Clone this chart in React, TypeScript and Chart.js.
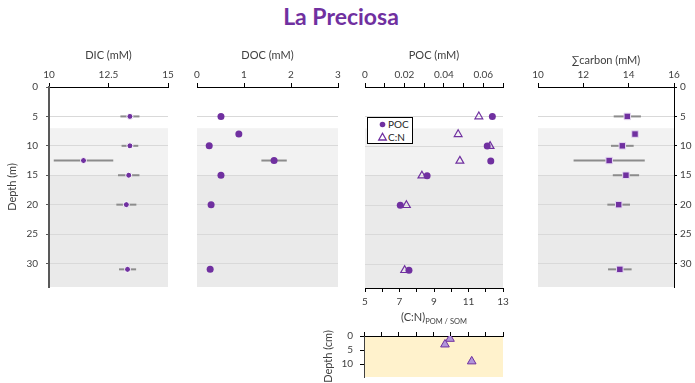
import React, { useEffect, useRef } from "react";
import { Chart, registerables } from "chart.js";

Chart.register(...registerables);

const PURPLE = "#7030A0";
const AXIS_TEXT = "#404040";
const FONT = "Lato, 'Open Sans', sans-serif";
const W = 695;
const H = 383;

// ---------- data ----------
const depthTicks = [0, 5, 10, 15, 20, 25, 30];
const sedDepthTicks = [0, 5, 10];
const waterLayers = [7, 15, 34]; // shaded layer boundaries (m)

const dicTicks = [10, 12.5, 15];
const dicTickLabels = ["10", "12.5", "15"];
const dicDepth = [5, 10, 12.5, 15, 20, 31];
const dicValue = [13.4, 13.4, 11.45, 13.35, 13.25, 13.3];
const dicError = [0.4, 0.35, 1.25, 0.45, 0.42, 0.36];

const docTicks = [0, 1, 2, 3];
const docTickLabels = ["0", "1", "2", "3"];
const docDepth = [5, 8, 10, 12.5, 15, 20, 31];
const docValue = [0.51, 0.89, 0.26, 1.64, 0.51, 0.3, 0.28];
const docError = [0, 0, 0, 0.27, 0, 0.05, 0];

const pocTicks = [0, 0.01, 0.02, 0.03, 0.04, 0.05, 0.06, 0.07];
const pocTickLabels = ["0", "", "0.02", "", "0.04", "", "0.06", ""];
const pocDepth = [5, 10, 12.5, 15, 20, 31];
const pocValue = [0.0646, 0.062, 0.0638, 0.0315, 0.0179, 0.0223];

const cnTicks = [5, 6, 7, 8, 9, 10, 11, 12, 13];
const cnTickLabels = ["5", "", "7", "", "9", "", "11", "", "13"];
const cnDepth = [5, 8, 10, 12.5, 15, 20, 31];
const cnValue = [11.6, 10.4, 12.25, 10.5, 8.3, 7.4, 7.3];

const carbonTicks = [10, 12, 14, 16];
const carbonTickLabels = ["10", "12", "14", "16"];
const carbonDepth = [5, 8, 10, 12.5, 15, 20, 31];
const carbonValue = [13.94, 14.28, 13.72, 13.14, 13.88, 13.56, 13.61];
const carbonError = [0.6, 0, 0.5, 1.57, 0.58, 0.5, 0.52];

const sedDepth = [1, 3, 9];
const sedCN = [9.95, 9.66, 11.2];

// ---------- helpers ----------
const fixSize = (size: number) => (scale: any) => {
  if (scale.isHorizontal()) scale.height = size;
  else scale.width = size;
  scale.paddingLeft = 0;
  scale.paddingRight = 0;
  scale.paddingTop = 0;
  scale.paddingBottom = 0;
};

const setTicks = (values: number[]) => (scale: any) => {
  scale.ticks = values.map((v) => ({ value: v }));
};

const gridColor = (c: any) =>
  c.tick && c.tick.value === 0 ? "rgba(0,0,0,0)" : "#D9D9D9";

const bandPlugin = {
  id: "bands",
  beforeDraw(chart: any, _args: any, opts: any) {
    const bands = opts && opts.bands;
    if (!bands) return;
    const { ctx, chartArea: a } = chart;
    const ys = chart.scales.y;
    ctx.save();
    bands.forEach((b: any) => {
      const y1 = ys.getPixelForValue(b.from);
      const y2 = ys.getPixelForValue(b.to);
      ctx.fillStyle = b.color;
      ctx.fillRect(a.left, Math.min(y1, y2), a.right - a.left, Math.abs(y2 - y1));
    });
    ctx.restore();
  },
};

const errorBarPlugin = {
  id: "errbars",
  beforeDatasetsDraw(chart: any, _args: any, opts: any) {
    const errs = opts && opts.errors;
    if (!errs) return;
    const meta = chart.getDatasetMeta(0);
    const xs = chart.scales[meta.xAxisID];
    const data = chart.data.datasets[0].data;
    const { ctx } = chart;
    ctx.save();
    ctx.strokeStyle = "#8C8C8C";
    ctx.lineWidth = 2;
    meta.data.forEach((pt: any, i: number) => {
      const e = errs[i];
      if (!e) return;
      const v = data[i].x;
      ctx.beginPath();
      ctx.moveTo(xs.getPixelForValue(v - e), pt.y);
      ctx.lineTo(xs.getPixelForValue(v + e), pt.y);
      ctx.stroke();
    });
    ctx.restore();
  },
};

const tickFont = { family: FONT, size: 10 };
const titleFont = { family: FONT, size: 11 };

const topAxis = (
  min: number,
  max: number,
  ticks: number[],
  labels: string[],
  title: string,
  titlePadTop = 0
) => ({
  type: "linear",
  position: "top",
  min,
  max,
  afterBuildTicks: setTicks(ticks),
  afterFit: fixSize(38),
  ticks: {
    padding: 2,
    color: AXIS_TEXT,
    font: tickFont,
    maxRotation: 0,
    autoSkip: false,
    callback: (_v: any, i: number) => labels[i],
  },
  grid: { drawOnChartArea: false, drawTicks: true, tickLength: 4, tickColor: "#000", tickWidth: 1 },
  border: { display: true, color: "#000", width: 1 },
  title: {
    display: true,
    text: title,
    color: AXIS_TEXT,
    font: titleFont,
    padding: { top: titlePadTop, bottom: 0 },
  },
});

const hiddenDepthAxis = () => ({
  type: "linear",
  reverse: true,
  min: 0,
  max: 34,
  afterBuildTicks: setTicks(depthTicks),
  afterFit: fixSize(0),
  ticks: { display: false },
  grid: { color: gridColor, drawTicks: false, lineWidth: 1 },
  border: { display: false },
});

const baseOptions = (padding: any) => ({
  responsive: false,
  animation: false,
  events: [],
  devicePixelRatio: 1,
  layout: { padding },
});

const waterBands = [
  { from: waterLayers[0], to: waterLayers[1], color: "#F2F2F2" },
  { from: waterLayers[1], to: waterLayers[2], color: "#EAEAEA" },
];

const pts = (xs: number[], ys: number[]) => xs.map((v, i) => ({ x: v, y: ys[i] }));

export default function App() {
  const r0 = useRef<HTMLCanvasElement>(null);
  const r1 = useRef<HTMLCanvasElement>(null);
  const r2 = useRef<HTMLCanvasElement>(null);
  const r3 = useRef<HTMLCanvasElement>(null);
  const r4 = useRef<HTMLCanvasElement>(null);

  useEffect(() => {
    const charts: any[] = [];
    const mk = (ref: any, cfg: any) => {
      if (ref.current) charts.push(new Chart(ref.current, cfg));
    };

    // DIC panel: plot 49..168 x 87..287
    mk(r0, {
      type: "scatter",
      data: {
        datasets: [
          {
            data: pts(dicValue, dicDepth),
            pointStyle: "circle",
            pointRadius: 3,
            pointBackgroundColor: PURPLE,
            pointBorderColor: "#FFFFFF",
            pointBorderWidth: 1,
          },
        ],
      },
      options: {
        ...baseOptions({ left: 6, top: 49, right: W - 168, bottom: H - 287 }),
        plugins: {
          legend: { display: false },
          tooltip: { enabled: false },
          bands: { bands: waterBands },
          errbars: { errors: dicError },
        },
        scales: {
          x: topAxis(10, 15, dicTicks, dicTickLabels, "DIC (mM)"),
          y: {
            type: "linear",
            position: "left",
            reverse: true,
            min: 0,
            max: 34,
            afterBuildTicks: setTicks(depthTicks),
            afterFit: fixSize(43),
            ticks: { padding: 8, color: AXIS_TEXT, font: tickFont },
            grid: { color: gridColor, drawTicks: true, tickLength: 3, tickColor: "#595959" },
            border: { display: true, color: "#595959", width: 2 },
            title: { display: true, text: "Depth (m)", color: AXIS_TEXT, font: titleFont, padding: 0 },
          },
        },
      },
      plugins: [bandPlugin, errorBarPlugin],
    });

    // DOC panel: plot 197..338
    mk(r1, {
      type: "scatter",
      data: {
        datasets: [
          {
            data: pts(docValue, docDepth),
            pointStyle: "circle",
            pointRadius: 3.5,
            pointBackgroundColor: PURPLE,
            pointBorderColor: PURPLE,
            pointBorderWidth: 0,
          },
        ],
      },
      options: {
        ...baseOptions({ left: 197, top: 49, right: W - 338, bottom: H - 287 }),
        plugins: {
          legend: { display: false },
          tooltip: { enabled: false },
          bands: { bands: waterBands },
          errbars: { errors: docError },
        },
        scales: {
          x: topAxis(0, 3, docTicks, docTickLabels, "DOC (mM)"),
          y: hiddenDepthAxis(),
        },
      },
      plugins: [bandPlugin, errorBarPlugin],
    });

    // POC / C:N panel: plot 365..503 x 87..288
    mk(r2, {
      type: "scatter",
      data: {
        datasets: [
          {
            label: "POC",
            data: pts(pocValue, pocDepth),
            xAxisID: "x",
            pointStyle: "circle",
            pointRadius: 3.5,
            pointBackgroundColor: PURPLE,
            pointBorderWidth: 0,
          },
          {
            label: "C:N",
            data: pts(cnValue, cnDepth),
            xAxisID: "x2",
            pointStyle: "triangle",
            pointRadius: 4.5,
            pointBackgroundColor: "rgba(255,255,255,0)",
            pointBorderColor: PURPLE,
            pointBorderWidth: 1.2,
          },
        ],
      },
      options: {
        ...baseOptions({ left: 365, top: 49, right: W - 503, bottom: H - 288 - 20 }),
        plugins: {
          legend: { display: false },
          tooltip: { enabled: false },
          bands: { bands: waterBands },
        },
        scales: {
          x: topAxis(0, 0.07, pocTicks, pocTickLabels, "POC (mM)"),
          x2: {
            type: "linear",
            position: "bottom",
            min: 5,
            max: 13,
            afterBuildTicks: setTicks(cnTicks),
            afterFit: fixSize(20),
            ticks: {
              padding: 4,
              color: AXIS_TEXT,
              font: tickFont,
              maxRotation: 0,
              autoSkip: false,
              callback: (_v: any, i: number) => cnTickLabels[i],
            },
            grid: { drawOnChartArea: false, drawTicks: true, tickLength: 4, tickColor: "#000" },
            border: { display: true, color: "#000", width: 1 },
          },
          y: hiddenDepthAxis(),
        },
      },
      plugins: [bandPlugin],
    });

    // Sum carbon panel: plot 538..674
    mk(r3, {
      type: "scatter",
      data: {
        datasets: [
          {
            data: pts(carbonValue, carbonDepth),
            pointStyle: "rect",
            pointRadius: 4.6,
            pointBackgroundColor: PURPLE,
            pointBorderColor: "#E6DAF2",
            pointBorderWidth: 1,
          },
        ],
      },
      options: {
        ...baseOptions({ left: 538, top: 49, right: 0, bottom: H - 287 }),
        plugins: {
          legend: { display: false },
          tooltip: { enabled: false },
          bands: { bands: waterBands },
          errbars: { errors: carbonError },
        },
        scales: {
          x: topAxis(10, 16, carbonTicks, carbonTickLabels, "\u2211carbon (mM)", 5),
          y: {
            type: "linear",
            position: "right",
            reverse: true,
            min: 0,
            max: 34,
            afterBuildTicks: setTicks(depthTicks),
            afterFit: fixSize(W - 674),
            ticks: { padding: 3, color: AXIS_TEXT, font: tickFont },
            grid: { color: gridColor, drawTicks: true, tickLength: 3, tickColor: "#000" },
            border: { display: true, color: "#000", width: 1 },
          },
        },
      },
      plugins: [bandPlugin, errorBarPlugin],
    });

    // Sediment C:N panel: plot 364..503 x 336..383
    mk(r4, {
      type: "scatter",
      data: {
        datasets: [
          {
            data: pts(sedCN, sedDepth),
            pointStyle: "triangle",
            pointRadius: 5,
            pointBackgroundColor: "#B195DA",
            pointBorderColor: PURPLE,
            pointBorderWidth: 1,
          },
        ],
      },
      options: {
        ...baseOptions({ left: 364 - 42, top: 336 - 6, right: W - 503, bottom: 0 }),
        plugins: {
          legend: { display: false },
          tooltip: { enabled: false },
          bands: { bands: [{ from: 0, to: 14.55, color: "#FFF2CC" }] },
        },
        scales: {
          x: {
            type: "linear",
            position: "top",
            min: 5,
            max: 13,
            afterBuildTicks: setTicks(cnTicks),
            afterFit: fixSize(6),
            ticks: { display: false },
            grid: { drawOnChartArea: false, drawTicks: true, tickLength: 4, tickColor: "#000" },
            border: { display: true, color: "#000", width: 1 },
          },
          y: {
            type: "linear",
            position: "left",
            reverse: true,
            min: 0,
            max: 14.55,
            afterBuildTicks: setTicks(sedDepthTicks),
            afterFit: fixSize(42),
            ticks: { padding: 7, color: AXIS_TEXT, font: tickFont },
            grid: { drawOnChartArea: false, drawTicks: true, tickLength: 4, tickColor: "#000" },
            border: { display: true, color: "#404040", width: 1 },
            title: { display: true, text: "Depth (cm)", color: AXIS_TEXT, font: titleFont, padding: 0 },
          },
        },
      },
      plugins: [bandPlugin],
    });

    return () => charts.forEach((c) => c.destroy());
  }, []);

  const canvasStyle: React.CSSProperties = {
    position: "absolute",
    left: 0,
    top: 0,
    width: W,
    height: H,
  };

  return (
    <div
      style={{
        position: "absolute",
        left: 0,
        top: 0,
        width: W,
        height: H,
        overflow: "hidden",
        background: "#FFFFFF",
        fontFamily: FONT,
      }}
    >
      <div
        style={{
          position: "absolute",
          left: 0,
          top: 2,
          width: 682,
          textAlign: "center",
          fontFamily: FONT,
          fontWeight: 700,
          fontSize: 23,
          lineHeight: "28px",
          color: PURPLE,
        }}
      >
        La Preciosa
      </div>
      <canvas ref={r0} width={W} height={H} style={canvasStyle} />
      <canvas ref={r1} width={W} height={H} style={canvasStyle} />
      <canvas ref={r2} width={W} height={H} style={canvasStyle} />
      <canvas ref={r3} width={W} height={H} style={canvasStyle} />
      <canvas ref={r4} width={W} height={H} style={canvasStyle} />
      <div
        style={{
          position: "absolute",
          left: 367,
          top: 117,
          width: 44,
          height: 25,
          border: "1px solid #000",
          background: "#FFFFFF",
          fontSize: 10,
          color: "#262626",
        }}
      >
        <svg width={44} height={25} style={{ position: "absolute", left: 0, top: 0 }}>
          <circle cx={14.5} cy={6.5} r={2.8} fill={PURPLE} />
          <polygon
            points="14.5,15.3 18.3,22 10.7,22"
            fill="none"
            stroke={PURPLE}
            strokeWidth={1.3}
          />
        </svg>
        <div style={{ position: "absolute", left: 20, top: 0, lineHeight: "13px" }}>POC</div>
        <div style={{ position: "absolute", left: 20, top: 12.5, lineHeight: "13px" }}>C:N</div>
      </div>
      <div
        style={{
          position: "absolute",
          left: 380,
          top: 310,
          width: 108,
          textAlign: "center",
          fontSize: 11,
          lineHeight: "14px",
          color: AXIS_TEXT,
          whiteSpace: "nowrap",
        }}
      >
        (C:N)
        <span style={{ fontSize: 7.5, verticalAlign: "-3px" }}>POM / SOM</span>
      </div>
    </div>
  );
}
